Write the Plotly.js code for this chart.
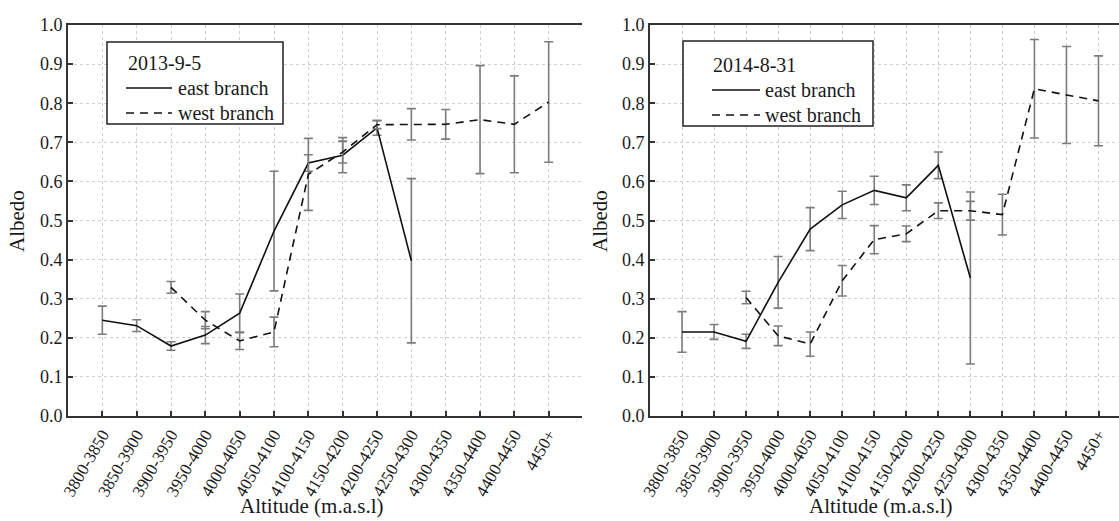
<!DOCTYPE html>
<html>
<head>
<meta charset="utf-8">
<script src="https://cdn.plot.ly/plotly-3.0.1.min.js"></script>
<style>
  html, body { margin: 0; padding: 0; background: #fff; font-family: 'Liberation Serif', serif; }
  #chart { width: 1119px; height: 521px; }
</style>
</head>
<body>
<div id="chart"></div>
<script>
// Altitude bands (m a.s.l.)
const altitudeBands = ["3800-3850", "3850-3900", "3900-3950", "3950-4000", "4000-4050",
  "4050-4100", "4100-4150", "4150-4200", "4200-4250", "4250-4300", "4300-4350",
  "4350-4400", "4400-4450", "4450+"];

// 2013-9-5: mean albedo and standard deviation per band
const east2013 = [0.245, 0.231, 0.179, 0.207, 0.263, 0.473, 0.647, 0.667, 0.737, 0.397, null, null, null, null];
const east2013Sd = [0.036, 0.015, 0.011, 0.022, 0.049, 0.153, 0.021, 0.045, 0.019, 0.210, null, null, null, null];
const west2013 = [null, null, 0.329, 0.245, 0.192, 0.215, 0.618, 0.675, 0.745, 0.746, 0.746, 0.758, 0.746, 0.803];
const west2013Sd = [null, null, 0.015, 0.022, 0.022, 0.038, 0.092, 0.028, 0.010, 0.040, 0.038, 0.138, 0.124, 0.154];

// 2014-8-31: mean albedo and standard deviation per band
const east2014 = [0.215, 0.215, 0.191, 0.342, 0.478, 0.540, 0.577, 0.558, 0.641, 0.353, null, null, null, null];
const east2014Sd = [0.052, 0.019, 0.018, 0.066, 0.055, 0.035, 0.036, 0.033, 0.034, 0.220, null, null, null, null];
const west2014 = [null, null, 0.303, 0.205, 0.184, 0.346, 0.451, 0.466, 0.525, 0.525, 0.515, 0.837, 0.821, 0.806];
const west2014Sd = [null, null, 0.016, 0.025, 0.031, 0.039, 0.036, 0.020, 0.020, 0.024, 0.052, 0.126, 0.124, 0.115];

// Panel headings and series names
const surveyDates = ["2013-9-5", "2014-8-31"];
const branchNames = ["east branch", "west branch"];

const W = 1119, H = 521;
const FONT = "Liberation Serif";
const INK = "#1a1a1a";
const DASH = "8px,6px";

function series(y, sd, name, dash, xa, ya) {
  return {
    type: "scatter", mode: "lines", name: name, showlegend: false,
    x: altitudeBands, y: y, xaxis: xa, yaxis: ya,
    line: { color: "#111", width: 1.6, dash: dash },
    error_y: { type: "data", array: sd, visible: true, color: "#7c7c7c", thickness: 1.6, width: 4.5 },
    connectgaps: false
  };
}

const traces = [
  series(east2013, east2013Sd, branchNames[0], "solid", "x", "y"),
  series(west2013, west2013Sd, branchNames[1], DASH, "x", "y"),
  series(east2014, east2014Sd, branchNames[0], "solid", "x2", "y2"),
  series(west2014, west2014Sd, branchNames[1], DASH, "x2", "y2")
];

function xAxis(domainPx, range) {
  return {
    type: "category", categoryorder: "array", categoryarray: altitudeBands,
    domain: [domainPx[0] / W, domainPx[1] / W], range: range,
    showline: true, linecolor: "#333", linewidth: 2, mirror: true,
    ticks: "inside", ticklen: 5, tickwidth: 1.5, tickcolor: "#333",
    tickangle: -60, tickfont: { family: FONT, size: 17, color: INK },
    showgrid: true, gridcolor: "#cfcfcf", griddash: "dot", gridwidth: 1,
    zeroline: false, fixedrange: true
  };
}
function yAxis(anchor) {
  return {
    anchor: anchor, range: [0, 1], dtick: 0.1, tick0: 0, tickformat: ".1f",
    showline: true, linecolor: "#333", linewidth: 2, mirror: false,
    ticks: "inside", ticklen: 5, tickwidth: 1.5, tickcolor: "#333",
    tickfont: { family: FONT, size: 18, color: INK },
    showgrid: true, gridcolor: "#cfcfcf", griddash: "dot", gridwidth: 1,
    zeroline: false, fixedrange: true
  };
}

// plot area spans y = 25 .. 416 px; helpers convert pixels to paper units
const plotTop = 25, plotH = 391;
const px = v => v / W;
const py = v => 1 - (v - plotTop) / plotH;

const shapes = [];
const annotations = [];

function addText(str, x, y, opts) {
  annotations.push(Object.assign({
    text: str, xref: "paper", yref: "paper", x: px(x), y: py(y),
    xanchor: "center", yanchor: "middle", showarrow: false,
    font: { family: FONT, size: 20, color: INK }
  }, opts || {}));
}

// Key box: frame, date heading, and one line sample per branch
function addKey(box, title, titleX, sampleX0, sampleX1, labelX, rowY) {
  shapes.push({ type: "rect", xref: "paper", yref: "paper",
    x0: px(box[0]), x1: px(box[1]), y0: py(box[2]), y1: py(box[3]),
    line: { color: "#222", width: 1.5 }, fillcolor: "#fff", layer: "above" });
  addText(title, titleX, rowY[0], { xanchor: "left" });
  [["solid", branchNames[0], rowY[1]], [DASH, branchNames[1], rowY[2]]].forEach(([dash, name, y]) => {
    shapes.push({ type: "line", xref: "paper", yref: "paper",
      x0: px(sampleX0), x1: px(sampleX1), y0: py(y), y1: py(y),
      line: { color: "#111", width: 1.6, dash: dash }, layer: "above" });
    addText(name, labelX, y, { xanchor: "left" });
  });
}
addKey([107, 283, 42, 124], surveyDates[0], 126, 126, 172, 176, [63, 88, 113]);
addKey([683, 873, 41, 126], surveyDates[1], 711, 712, 760, 763, [65, 90, 115]);

// axis titles
const titleFont = { family: FONT, size: 21, color: INK };
addText("Albedo", 17, 221, { textangle: -90, font: titleFont });
addText("Albedo", 600, 221, { textangle: -90, font: titleFont });
addText("Altitude (m.a.s.l)", 311, 506, { font: titleFont });
addText("Altitude (m.a.s.l)", 880, 506, { font: titleFont });

const layout = {
  width: W, height: H,
  margin: { l: 0, r: 0, t: plotTop, b: H - plotTop - plotH },
  paper_bgcolor: "#fff", plot_bgcolor: "#fff",
  font: { family: FONT, size: 18, color: INK },
  showlegend: false,
  xaxis: xAxis([68, 582], [-1, 13.97]),
  yaxis: yAxis("x"),
  xaxis2: xAxis([650, 1119], [-1, 13.64]),
  yaxis2: yAxis("x2"),
  shapes: shapes,
  annotations: annotations
};

Plotly.newPlot("chart", traces, layout, { displayModeBar: false });
</script>
</body>
</html>
